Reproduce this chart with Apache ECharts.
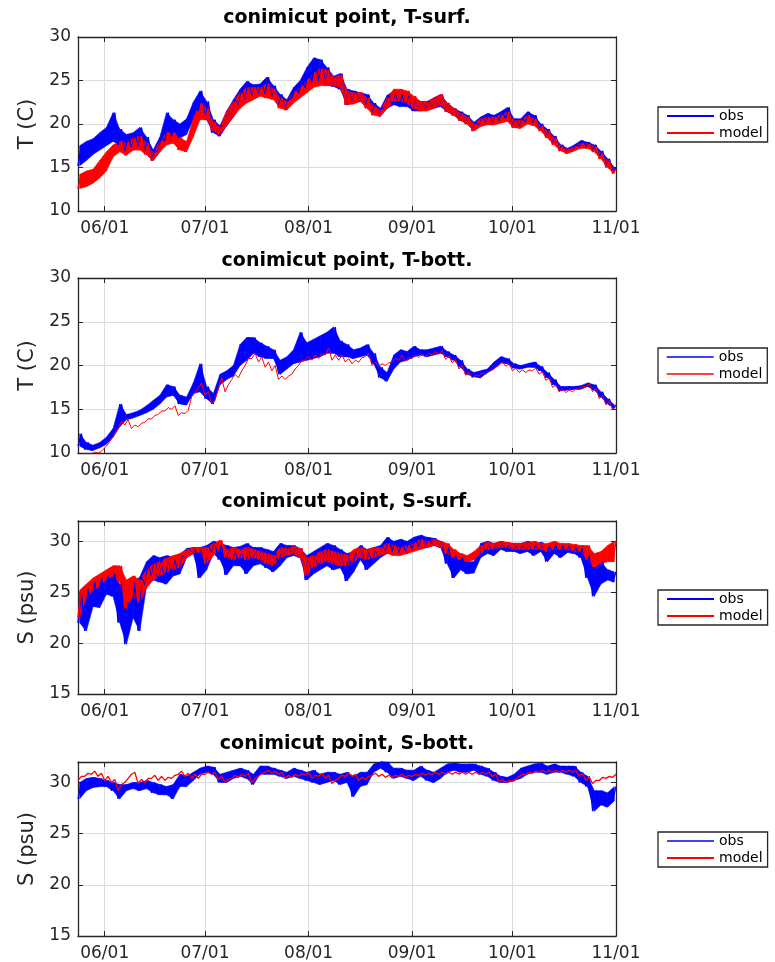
<!DOCTYPE html>
<html>
<head>
<meta charset="utf-8">
<script src="https://cdn.jsdelivr.net/npm/echarts@6.0.0/dist/echarts.min.js"></script>
<style>
  html, body { margin: 0; padding: 0; background: #fff; }
  #chart { width: 775px; height: 962px; }
</style>
</head>
<body>
<div id="chart"></div>
<script>
// x positions are days counted from 06/01; each lo/hi pair covers two days
const startDay = -8
const endDay = 153
const xTickDays = [0, 30, 61, 92, 122, 153]
const xTickLabels = ['06/01', '07/01', '08/01', '09/01', '10/01', '11/01']
const tTicks = [10, 15, 20, 25, 30]
const sTicks = [15, 20, 25, 30]

// T-surf
const tsurfObsLo = [15.2,15.8,16.5,17.0,17.5,18.0,17.6,16.6,17.0,17.2,
  16.5,15.8,16.8,18.0,18.6,18.4,18.8,20.5,21.5,20.5,
  19.0,18.6,19.8,20.8,22.0,22.6,23.0,23.5,23.4,23.0,
  22.0,21.7,23.0,23.6,24.2,24.8,24.8,24.5,24.3,24.0,
  22.2,22.5,22.6,22.0,21.2,20.9,21.8,22.2,22.0,22.0,
  21.5,21.5,21.6,21.8,22.0,21.4,21.0,20.4,20.0,19.2,
  19.8,20.0,20.0,20.3,20.6,19.6,19.6,20.2,20.0,19.4,
  18.6,17.8,17.0,16.7,17.0,17.4,17.4,17.0,16.3,15.2,
  14.6]
const tsurfObsHi = [17.5,18.0,18.3,19.0,19.6,21.3,19.4,18.8,19.0,19.6,
  18.5,17.0,18.5,21.3,20.5,20.0,20.6,22.5,23.8,22.6,
  20.5,19.8,21.5,22.8,24.0,24.9,24.5,24.6,25.4,24.4,
  23.4,22.8,24.2,25.0,26.5,27.6,27.4,26.5,25.5,25.8,
  24.0,23.8,23.6,23.4,22.4,21.8,23.3,23.8,23.4,23.6,
  23.0,22.6,22.6,23.0,23.4,22.4,21.8,21.4,21.0,20.2,
  20.8,21.2,21.0,21.4,21.9,20.6,20.6,21.4,21.0,20.0,
  19.4,18.6,17.6,17.2,17.6,18.1,17.9,17.6,16.9,16.0,
  15.0]
const tsurfModLo = [12.6,12.8,13.2,13.8,14.6,16.2,16.8,16.4,17.0,17.0,
  16.5,15.8,16.8,17.6,17.8,17.0,16.8,18.5,20.5,20.5,
  19.2,18.8,19.8,20.8,21.8,22.4,22.8,23.2,23.0,22.8,
  21.8,21.6,22.4,23.0,23.6,24.2,24.4,24.4,24.4,24.2,
  22.2,22.3,22.6,21.8,21.0,20.9,21.8,22.6,22.6,22.4,
  21.8,21.5,21.5,21.8,22.2,21.4,21.0,20.4,20.0,19.2,
  19.7,19.9,19.9,20.1,20.3,19.6,19.5,20.0,19.8,19.2,
  18.4,17.6,16.9,16.6,16.9,17.2,17.2,16.8,16.0,15.0,
  14.3]
const tsurfModHi = [14.2,14.6,14.8,15.8,16.8,17.6,18.0,17.8,18.4,18.6,
  17.8,16.6,18.0,19.0,19.0,18.4,18.0,20.6,22.4,21.8,
  20.2,19.6,21.5,22.6,23.6,24.2,24.2,24.2,24.6,24.0,
  23.0,22.6,23.6,24.2,25.0,25.8,26.4,26.2,25.4,25.6,
  23.8,23.6,23.6,23.0,22.0,21.6,23.0,24.0,24.0,23.8,
  23.2,22.6,22.5,23.0,23.4,22.4,21.8,21.2,20.8,20.0,
  20.6,20.8,20.8,21.0,21.4,20.4,20.4,21.0,20.6,19.8,
  19.2,18.4,17.4,17.1,17.4,17.8,17.7,17.4,16.6,15.8,
  14.8]

// T-bott
const tbotObsLo = [10.8,10.4,10.3,10.6,11.0,11.8,13.0,13.8,14.0,14.3,
  14.6,15.0,15.6,16.4,16.6,15.6,15.5,16.8,17.0,16.2,
  15.6,17.8,18.4,18.8,20.0,20.6,21.4,21.0,20.8,20.8,
  19.0,19.6,20.2,20.4,20.6,20.8,21.0,21.4,21.4,21.0,
  21.0,20.8,21.0,21.2,20.2,18.6,18.2,19.6,20.4,20.6,
  21.0,21.2,21.0,21.2,21.4,21.0,20.6,19.8,19.0,18.7,
  18.6,19.2,19.6,20.3,20.2,19.7,19.6,19.8,19.8,19.4,
  18.6,17.8,17.1,17.2,17.3,17.3,17.6,17.2,16.4,15.6,
  15.1]
const tbotObsHi = [12.2,11.2,10.9,11.2,11.8,12.8,15.6,14.4,14.6,14.9,
  15.4,16.0,16.6,17.8,17.6,16.6,16.4,18.0,20.2,17.6,
  16.8,19.0,19.4,20.0,22.4,23.2,23.2,22.6,22.2,21.8,
  20.6,21.0,21.8,23.8,22.6,23.0,23.4,23.8,24.4,22.8,
  22.4,21.8,22.0,22.4,21.4,19.8,19.2,21.2,21.8,21.6,
  22.2,21.8,21.8,22.0,22.2,21.6,21.2,20.6,19.6,19.2,
  19.4,19.6,20.4,21.0,20.8,20.2,20.0,20.2,20.4,19.9,
  19.2,18.4,17.6,17.6,17.6,17.7,18.0,17.8,17.0,16.2,
  15.5]
const tbotModLo = [9.5,9.7,9.9,10.0,10.6,11.6,12.8,13.2,12.8,13.0,
  13.5,13.9,14.4,14.8,15.0,14.3,14.5,16.4,17.4,16.6,
  15.6,17.4,17.0,18.4,18.6,20.0,20.8,20.4,19.8,19.4,
  18.4,18.4,19.0,20.0,20.6,20.6,20.8,21.2,20.6,20.6,
  20.4,20.2,20.4,21.0,20.0,19.9,20.0,20.4,20.6,20.5,
  20.8,20.9,21.0,21.2,21.3,20.7,20.3,19.6,18.9,18.6,
  18.8,19.0,19.5,20.0,19.9,19.4,19.2,19.2,19.4,19.0,
  18.3,17.5,17.0,16.9,17.0,17.3,17.6,17.0,16.2,15.5,
  15.0]
const tbotModHi = [9.7,9.9,10.1,10.2,11.0,12.2,13.6,13.8,13.2,13.4,
  13.9,14.3,14.8,15.2,15.4,14.6,14.9,16.9,18.0,17.0,
  16.0,18.6,17.8,19.0,19.4,20.8,21.4,21.0,20.4,20.0,
  18.8,18.8,19.6,20.6,21.0,21.2,21.4,22.0,21.2,21.2,
  20.8,20.6,20.9,21.4,20.4,20.2,20.3,20.8,21.2,20.9,
  21.2,21.3,21.4,21.6,21.7,21.1,20.7,20.0,19.2,18.9,
  19.1,19.3,19.8,20.4,20.2,19.7,19.5,19.5,19.7,19.3,
  18.6,17.8,17.3,17.2,17.3,17.6,17.9,17.4,16.6,15.9,
  15.3]

// S-surf
const ssurfObsLo = [22.0,21.2,23.6,23.5,24.8,24.6,22.0,19.9,22.5,21.2,
  25.6,26.2,26.0,25.8,26.6,26.8,28.4,28.8,26.4,27.2,
  28.8,28.2,26.7,27.6,27.6,26.8,27.6,27.8,27.4,27.0,
  27.6,28.4,28.6,28.4,26.2,26.8,27.2,27.6,27.2,27.4,
  26.1,27.0,28.2,27.2,27.8,28.4,28.8,29.0,28.8,28.8,
  29.2,29.4,29.4,29.6,29.4,27.8,26.4,27.2,26.8,26.9,
  28.4,28.8,28.6,29.2,29.0,29.0,28.8,29.0,28.6,29.0,
  28.0,28.8,28.4,28.9,28.8,28.4,26.4,24.6,25.8,26.2,
  26.0]
const ssurfObsHi = [25.0,25.3,26.0,26.4,26.6,26.8,25.8,24.0,26.0,26.5,
  28.0,28.6,28.4,28.6,28.4,28.7,29.3,29.4,29.4,29.6,
  30.0,29.8,29.6,29.4,29.5,29.8,29.4,29.4,29.2,29.0,
  29.8,29.6,29.6,29.3,28.6,29.0,29.4,29.8,29.6,29.2,
  28.8,29.0,29.6,29.2,29.4,29.6,30.4,30.0,30.2,30.0,
  30.4,30.6,30.4,30.3,30.0,29.6,28.6,28.4,28.0,28.0,
  29.8,30.0,29.8,30.0,29.8,29.8,29.8,30.0,29.8,29.9,
  29.6,29.7,29.6,29.6,29.6,29.4,28.6,27.4,28.0,27.2,
  27.0]
const ssurfModLo = [22.5,24.4,25.2,25.6,26.2,26.6,26.0,23.4,24.6,24.0,
  25.4,26.2,26.6,27.0,27.2,27.4,28.4,28.8,29.0,27.8,
  28.6,29.2,28.4,28.2,28.4,28.2,28.4,28.2,27.8,27.6,
  28.4,28.6,28.8,28.4,26.6,27.4,27.8,28.0,27.8,27.6,
  27.6,28.0,28.4,28.2,28.4,28.6,28.8,28.6,28.6,28.8,
  29.0,29.2,29.4,29.6,29.4,28.8,28.4,28.2,28.0,28.2,
  28.8,29.2,29.2,29.4,29.4,29.2,29.2,29.2,29.2,29.2,
  29.0,29.2,29.2,29.2,29.0,29.0,28.2,27.5,27.8,28.0,
  28.0]
const ssurfModHi = [25.2,25.8,26.4,26.8,27.2,27.6,27.6,26.2,26.6,26.2,
  27.2,27.8,28.0,28.4,28.6,28.8,29.2,29.4,29.4,29.4,
  29.8,30.1,29.2,29.4,29.2,29.4,29.2,29.0,28.8,28.6,
  29.4,29.3,29.5,29.3,28.4,28.6,29.0,29.2,29.0,28.8,
  28.6,29.2,29.4,29.2,29.4,29.4,29.8,29.6,29.4,29.6,
  29.8,30.2,30.0,30.2,30.0,29.8,29.2,28.8,28.6,29.0,
  29.6,29.9,29.8,30.0,29.9,29.8,29.8,29.9,30.0,29.8,
  29.8,30.0,29.8,29.8,29.7,29.6,29.6,28.8,29.0,29.6,
  30.0]

// S-bott
const sbotObsLo = [28.4,29.2,29.5,29.6,29.6,29.2,28.4,29.2,29.4,29.2,
  29.4,29.0,28.8,28.8,28.4,29.6,29.6,30.2,30.8,31.0,
  30.8,30.0,30.0,30.4,30.6,30.4,29.8,30.8,30.8,30.8,
  30.6,30.4,30.6,30.4,30.2,30.0,29.8,30.0,30.2,29.8,
  30.0,28.6,29.6,29.8,31.0,31.4,31.0,30.4,30.6,30.4,
  30.2,30.6,30.2,30.0,30.4,31.0,31.2,31.0,31.0,31.2,
  30.8,30.6,30.2,30.0,30.0,30.2,30.4,30.8,31.0,31.0,
  30.8,31.0,31.0,30.8,30.6,30.0,29.6,27.2,27.8,27.6,
  28.2]
const sbotObsHi = [30.0,30.4,30.5,30.4,30.2,30.0,29.8,29.8,30.0,30.0,
  30.2,30.0,29.8,29.6,29.8,30.8,30.6,31.0,31.4,31.6,
  31.5,30.8,31.0,31.2,31.4,31.2,30.8,31.6,31.6,31.4,
  31.2,31.0,31.4,31.2,31.0,31.2,30.8,31.0,31.0,30.8,
  31.0,30.6,31.0,31.0,31.8,32.1,32.0,31.4,31.4,31.2,
  31.2,31.6,31.2,31.0,31.4,31.8,31.9,31.8,31.8,31.8,
  31.6,31.4,31.0,30.6,30.5,30.8,31.4,31.6,31.8,31.9,
  31.6,31.8,31.6,31.6,31.6,31.0,30.6,29.2,29.2,29.0,
  29.6]
const sbotModLo = [30.2,30.6,30.8,30.6,30.2,30.0,29.2,30.0,30.8,29.9,
  30.0,30.4,30.2,30.2,30.4,30.8,30.6,30.4,30.4,30.8,
  30.8,30.3,30.0,30.4,30.5,30.6,30.0,30.6,31.0,30.9,
  30.8,30.4,30.5,30.6,30.7,30.4,30.6,30.4,29.9,30.4,
  30.6,30.6,30.2,30.3,30.7,30.6,30.5,30.5,30.6,30.5,
  30.6,30.7,30.7,30.8,30.8,30.8,30.8,30.8,30.8,30.8,
  30.8,30.8,30.6,30.1,30.0,30.1,30.6,30.8,30.9,31.0,
  31.0,31.0,31.0,31.0,31.0,30.6,30.2,29.9,30.2,30.4,
  30.5]
const sbotModHi = [30.6,30.9,31.1,30.9,30.6,30.3,29.8,30.4,31.0,30.3,
  30.4,30.7,30.6,30.5,30.7,31.1,30.9,30.8,30.8,31.0,
  31.0,30.6,30.3,30.7,30.8,30.9,30.4,30.9,31.2,31.1,
  31.0,30.7,30.8,30.9,31.0,30.7,30.9,30.7,30.2,30.7,
  30.9,30.8,30.5,30.6,30.9,30.8,30.7,30.7,30.8,30.7,
  30.8,30.9,30.9,31.0,31.0,31.0,31.0,31.0,31.0,31.0,
  31.0,31.0,30.8,30.3,30.2,30.3,30.8,31.0,31.1,31.2,
  31.2,31.2,31.2,31.2,31.2,30.9,30.5,30.2,30.5,30.6,
  30.8]

// low then high inside each two-day window
function zig(lo, hi) {
  const pts = []
  lo.forEach((v, i) => {
    pts.push([startDay + 2 * i, v])
    pts.push([startDay + 2 * i + 1, hi[i]])
  })
  return pts
}
// [x, lo, hi] per window, for the filled noise band
const band = (lo, hi) => lo.map((v, i) => [startDay + 2 * i + 0.5, v, hi[i]])

const font = 'DejaVu Sans'
const ink = '#262626'
const blue = '#0000ff'
const red = '#ff0000'

const panels = [
  { title: 'conimicut point, T-surf.', yName: 'T (C)', min: 10, max: 30, ticks: tTicks,
    top: 37, height: 174, titleY: 18, legTop: 107,
    obs: [tsurfObsLo, tsurfObsHi], model: [tsurfModLo, tsurfModHi],
    widths: [1.5, 1.5], bands: [true, true], legWidths: [2, 2] },
  { title: 'conimicut point, T-bott.', yName: 'T (C)', min: 10, max: 30, ticks: tTicks,
    top: 278, height: 175, titleY: 261, legTop: 348,
    obs: [tbotObsLo, tbotObsHi], model: [tbotModLo, tbotModHi],
    widths: [1.3, 1], bands: [true, false], legWidths: [1.4, 1.4] },
  { title: 'conimicut point, S-surf.', yName: 'S (psu)', min: 15, max: 32, ticks: sTicks,
    top: 521, height: 173, titleY: 502, legTop: 590,
    obs: [ssurfObsLo, ssurfObsHi], model: [ssurfModLo, ssurfModHi],
    widths: [1.5, 1.5], bands: [true, true], legWidths: [2, 2] },
  { title: 'conimicut point, S-bott.', yName: 'S (psu)', min: 15, max: 32, ticks: sTicks,
    top: 762, height: 174, titleY: 744, legTop: 832,
    obs: [sbotObsLo, sbotObsHi], model: [sbotModLo, sbotModHi],
    widths: [1.3, 1.3], bands: [true, false], legWidths: [1.4, 2] }
]

const chart = echarts.init(document.getElementById('chart'))

const option = {
  animation: false,
  backgroundColor: '#fff',
  title: [], grid: [], xAxis: [], yAxis: [], legend: [], series: []
}

// one quad between window k and k+1, placed with the axes' own scales
function bandRenderer(color) {
  return function (params, api) {
    const k = params.dataIndexInside
    if (k >= params.dataInsideLength - 1) return
    const pts = [
      api.coord([api.value(0, k), api.value(1, k)]),
      api.coord([api.value(0, k + 1), api.value(1, k + 1)]),
      api.coord([api.value(0, k + 1), api.value(2, k + 1)]),
      api.coord([api.value(0, k), api.value(2, k)])
    ]
    return {
      type: 'polygon',
      shape: { points: echarts.graphic.clipPointsByRect(pts, params.coordSys) },
      style: { fill: color, stroke: color, lineWidth: 0.6 }
    }
  }
}

function addSeries(i, name, color, pair, width, withBand) {
  const axes = { xAxisIndex: 2 * i, yAxisIndex: 2 * i, silent: true }
  if (withBand) {
    option.series.push({ ...axes, name: name + ' band', type: 'custom',
      data: band(pair[0], pair[1]), encode: { x: 0, y: [1, 2] },
      renderItem: bandRenderer(color) })
  }
  option.series.push({ ...axes, name, type: 'line', symbol: 'none',
    data: zig(pair[0], pair[1]),
    itemStyle: { color }, lineStyle: { color, width } })
}

panels.forEach((p, i) => {
  option.grid.push({ left: 78, width: 538, top: p.top, height: p.height })
  option.title.push({
    text: p.title, left: 347, top: p.titleY, textAlign: 'center', textVerticalAlign: 'middle', padding: 0,
    textStyle: { fontFamily: font, fontSize: 19, fontWeight: 'bold', color: '#000' }
  })

  const frame = { show: true, onZero: false, lineStyle: { color: ink, width: 1.3 } }
  const xTick = { inside: true, length: 5, customValues: xTickDays, lineStyle: { color: ink } }
  option.xAxis.push({
    type: 'value', gridIndex: i, position: 'bottom', min: startDay, max: endDay,
    axisLine: frame, axisTick: xTick,
    axisLabel: {
      customValues: xTickDays, formatter: v => xTickLabels[xTickDays.indexOf(v)],
      fontFamily: font, fontSize: 17, color: ink, margin: 9
    },
    splitLine: { show: true, lineStyle: { color: '#dcdcdc', width: 1 } }
  })
  option.xAxis.push({
    type: 'value', gridIndex: i, position: 'top', min: startDay, max: endDay,
    axisLine: frame, axisTick: xTick, axisLabel: { show: false }, splitLine: { show: false }
  })

  const yTick = { inside: true, length: 5, customValues: p.ticks, lineStyle: { color: ink } }
  option.yAxis.push({
    type: 'value', gridIndex: i, position: 'left', min: p.min, max: p.max, interval: 5,
    name: p.yName, nameLocation: 'middle', nameGap: 31,
    nameTextStyle: { fontFamily: font, fontSize: 21, color: ink },
    axisLine: frame, axisTick: yTick,
    axisLabel: { customValues: p.ticks, fontFamily: font, fontSize: 17, color: ink, margin: 7 },
    splitLine: { show: true, lineStyle: { color: '#dcdcdc', width: 1 } }
  })
  option.yAxis.push({
    type: 'value', gridIndex: i, position: 'right', min: p.min, max: p.max, interval: 5,
    axisLine: frame, axisTick: yTick, axisLabel: { show: false }, splitLine: { show: false }
  })

  option.legend.push({
    orient: 'vertical', left: 658, top: p.legTop,
    itemWidth: 47, itemHeight: 15, itemGap: 3, padding: [2, 5, 2, 8],
    borderColor: ink, borderWidth: 1.3, selectedMode: false,
    itemStyle: { opacity: 0 },
    textStyle: { fontFamily: font, fontSize: 14, color: '#000' },
    data: [
      { name: 'obs', lineStyle: { width: p.legWidths[0] } },
      { name: 'model', lineStyle: { width: p.legWidths[1] } }
    ]
  })

  addSeries(i, 'obs', blue, p.obs, p.widths[0], p.bands[0])
  addSeries(i, 'model', red, p.model, p.widths[1], p.bands[1])
})

chart.setOption(option)
</script>
</body>
</html>
